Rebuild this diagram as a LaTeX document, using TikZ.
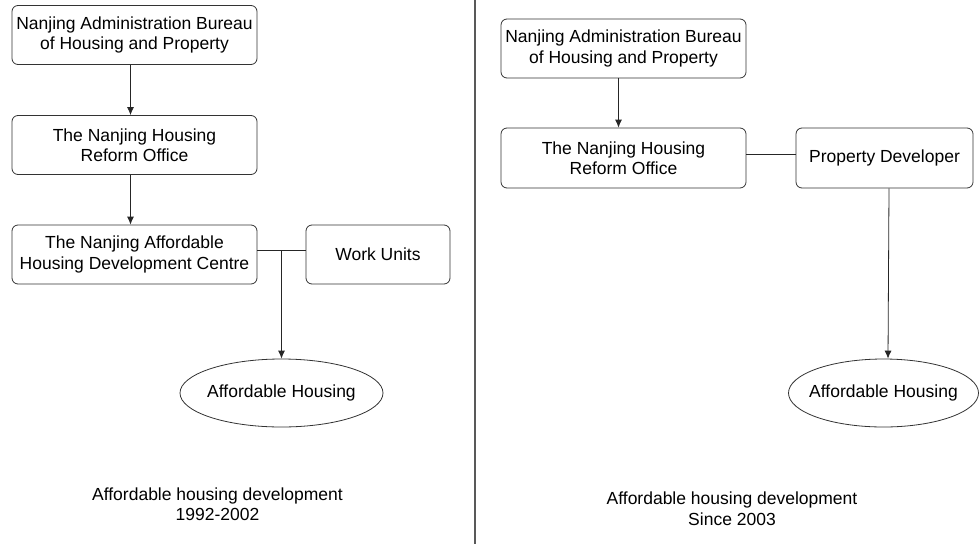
\documentclass[tikz,border=0pt]{standalone}
\usepackage{fontspec}
\setmainfont{Liberation Sans}
\usetikzlibrary{shapes.geometric, arrows.meta, calc}

\begin{document}
\begin{tikzpicture}[x=1pt, y=-1pt,
    box/.style={draw=black!80, rounded corners=6pt, line width=0.8pt, align=center,
      inner sep=0pt, minimum width=245pt, minimum height=59pt},
    oval/.style={draw=black!80, ellipse, line width=0.8pt, inner xsep=-10pt, inner ysep=0pt,
      minimum width=203pt, minimum height=68pt},
    note/.style={align=center, inner sep=0pt},
    link/.style={draw=black!85, line width=0.8pt},
    >={Latex[length=8pt, width=7pt]},
    font=\fontsize{17.5}{20.5}\selectfont]

  \useasboundingbox (0,0) rectangle (979,544);

  % left: 1992-2002
  \node[box] (bureauA) at (134.5, 35) {Nanjing Administration Bureau\\of Housing and Property};
  \node[box] (reformA) at (134.5, 145) {The Nanjing Housing\\Reform Office};
  \node[box] (centre) at (134.5, 254.5) {The Nanjing Affordable\\Housing Development Centre};
  \node[box, minimum width=144pt] (units) at (378, 254.5) {Work Units};
  \node[oval] (houseA) at (281.5, 393) {Affordable Housing};
  \node[note] (capA) at (217.5, 504) {Affordable housing development\\1992-2002};

  \draw[link, ->] ([xshift=-4pt]bureauA.south) -- ([xshift=-4pt]reformA.north);
  \draw[link, ->] ([xshift=-4pt]reformA.south) -- ([xshift=-4pt]centre.north);
  \draw[link] ([yshift=4.5pt]centre.east) -- ([yshift=4.5pt]units.west);
  \coordinate (split) at ($([yshift=4.5pt]centre.east)!0.5!([yshift=4.5pt]units.west)$);
  \draw[link, ->] (split) -- (houseA.north);

  % divider
  \coordinate (top) at (475, 0);
  \coordinate (bottom) at (475, 544);
  \draw[black!65, line width=1.5pt] (top) -- (bottom);

  % right: since 2003
  \node[box] (bureauB) at (623.5, 48.5) {Nanjing Administration Bureau\\of Housing and Property};
  \node[box, minimum height=60pt] (reformB) at (623.5, 158) {The Nanjing Housing\\Reform Office};
  \node[box, minimum width=177pt, minimum height=60pt] (developer) at (884.5, 158) {Property Developer};
  \node[oval, minimum width=190pt] (houseB) at (883.5, 393) {Affordable Housing};
  \node[note] (capB) at (732, 508.5) {Affordable housing development\\Since 2003};

  \draw[link, ->] ([xshift=-5pt]bureauB.south) -- ([xshift=-5pt]reformB.north);
  \draw[link] ([yshift=4pt]reformB.east) -- ([yshift=4pt]developer.west);
  \draw[link, ->] ([xshift=4.5pt]developer.south) -- ([xshift=4.5pt]houseB.north);
\end{tikzpicture}
\end{document}
